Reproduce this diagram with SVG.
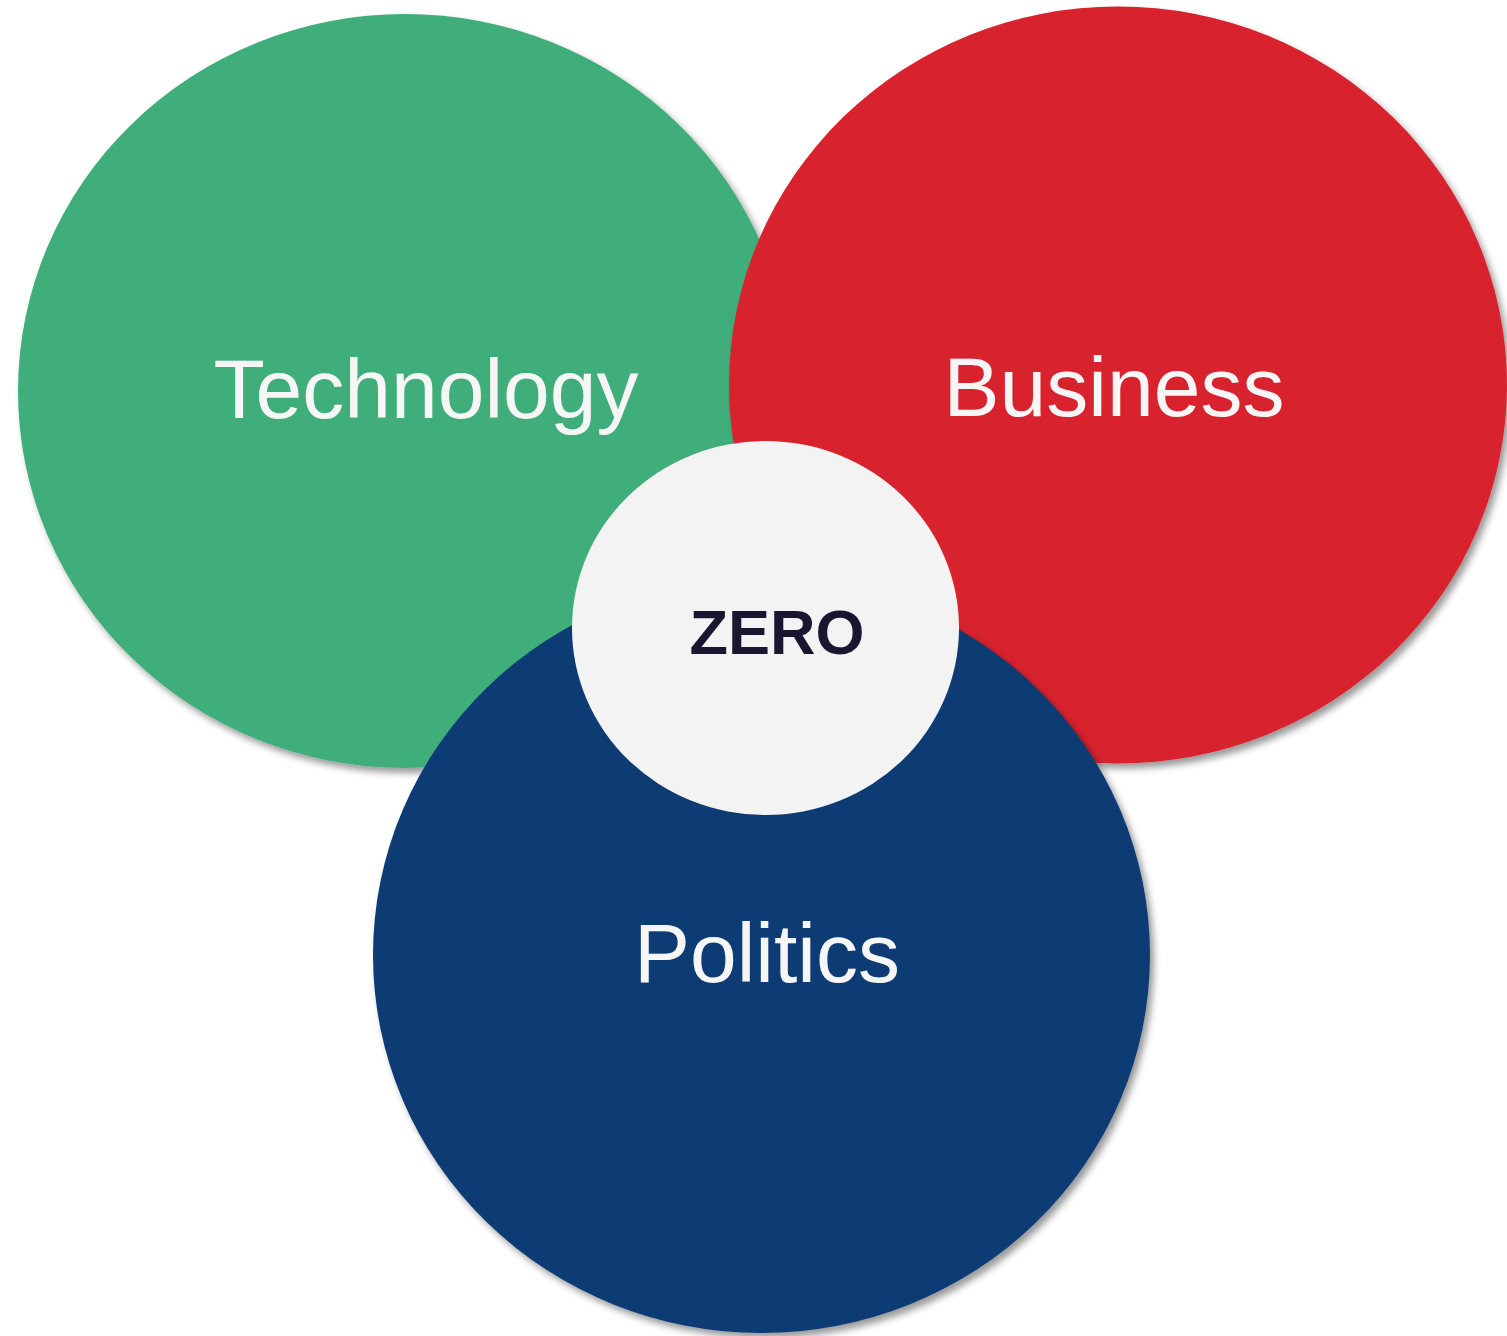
<svg xmlns="http://www.w3.org/2000/svg" width="1507" height="1336" viewBox="0 0 1507 1336">
<defs>
<filter id="sh" x="-5%" y="-5%" width="110%" height="110%">
<feDropShadow dx="4" dy="5" stdDeviation="3.5" flood-color="#000" flood-opacity="0.4"/>
</filter>
<style>
.lbl{font-family:"Liberation Sans",Arial,sans-serif;font-size:84px;fill:#F6F6F6;text-anchor:middle}
.zero{font-family:"Liberation Sans",Arial,sans-serif;font-size:63px;font-weight:bold;fill:#1C1530;text-anchor:middle}
</style>
</defs>
<rect width="1507" height="1336" fill="#fff"/>
<g id="technology">
<ellipse cx="405" cy="391" rx="387" ry="377" fill="#41AE7A" filter="url(#sh)"/>
<text class="lbl" x="426" y="418">Technology</text>
</g>
<g id="business">
<ellipse cx="1118" cy="385" rx="389" ry="378.5" fill="#D8232D" filter="url(#sh)"/>
<text class="lbl" x="1114" y="416">Business</text>
</g>
<g id="politics">
<ellipse cx="761.5" cy="955" rx="388.5" ry="378" fill="#113B73" filter="url(#sh)"/>
<text class="lbl" x="767" y="982">Politics</text>
</g>
<g id="zero">
<ellipse cx="765.5" cy="628" rx="193.5" ry="187" fill="#F3F3F3"/>
<text class="zero" x="777" y="654">ZERO</text>
</g>
<g id="connectors"/>
</svg>
